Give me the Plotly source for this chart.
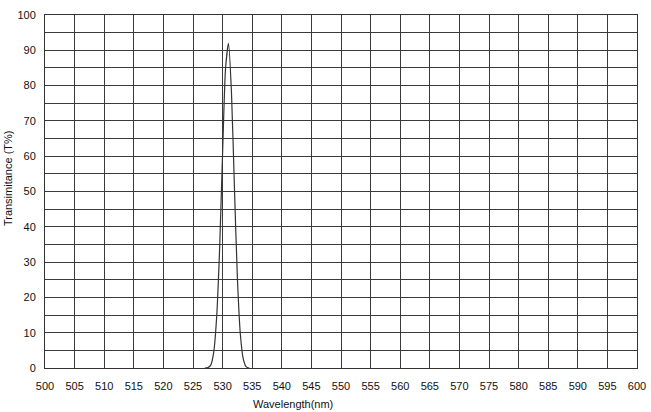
import plotly.graph_objects as go

wavelength = [527.0, 527.5, 528.0, 528.5, 529.0, 529.5, 530.0, 530.5, 531.0,
              531.5, 532.0, 532.5, 533.0, 533.5, 534.0, 534.5]
transmittance = [0.0, 0.1, 0.8, 4.5, 14.5, 34.0, 61.0, 85.0, 92.0,
                 78.0, 51.0, 25.5, 9.5, 2.5, 0.3, 0.0]

x_ticks = list(range(500, 601, 5))
y_ticks = list(range(0, 101, 10))

fig = go.Figure()
fig.add_trace(go.Scatter(x=wavelength, y=transmittance, mode="lines",
                         line=dict(color="#333333", width=1.2, shape="spline", smoothing=0.6),
                         showlegend=False, hoverinfo="skip"))

font = dict(family="Liberation Sans, Arial, sans-serif", size=11, color="#111111")

fig.update_layout(
    width=651, height=412,
    margin=dict(l=45, r=14, t=15, b=44, autoexpand=False),
    paper_bgcolor="white", plot_bgcolor="white",
    font=font,
    xaxis=dict(range=[500, 600], tickvals=x_ticks, ticktext=[str(v) for v in x_ticks],
               showgrid=True, gridcolor="#3a3a3a", gridwidth=1,
               showline=True, linecolor="#333333", linewidth=1, mirror=True,
               ticks="outside", ticklen=8, tickcolor="rgba(0,0,0,0)",
               zeroline=False, tickfont=font, automargin=False),
    yaxis=dict(range=[0, 100], tickvals=y_ticks, ticktext=[str(v) for v in y_ticks],
               showgrid=True, gridcolor="#3a3a3a", gridwidth=1,
               minor=dict(dtick=5, showgrid=True, gridcolor="#3a3a3a", gridwidth=1),
               showline=True, linecolor="#333333", linewidth=1, mirror=True,
               ticks="outside", ticklen=6, tickcolor="rgba(0,0,0,0)",
               zeroline=False, tickfont=font, automargin=False),
    annotations=[
        dict(text="Wavelength(nm)", xref="paper", yref="paper", x=0.419, y=-0.102,
             showarrow=False, font=font, xanchor="center", yanchor="middle"),
        dict(text="Transimitance (T%)", xref="paper", yref="paper", x=-0.0625, y=0.538,
             showarrow=False, font=font, textangle=-90, xanchor="center", yanchor="middle"),
    ],
)

fig.write_html("out.html", config={"displayModeBar": False},
               post_script="document.body.style.margin='0';document.body.style.overflow='hidden';")
